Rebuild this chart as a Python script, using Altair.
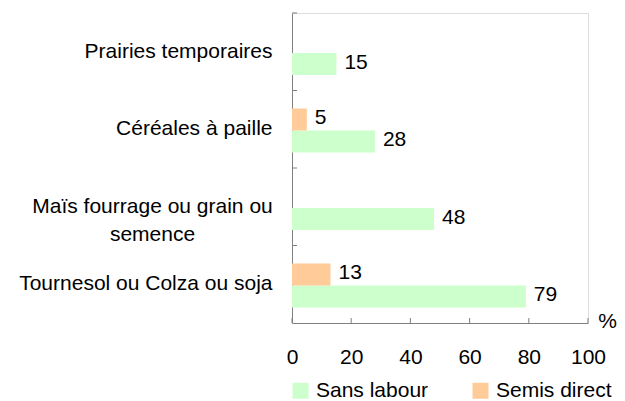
import altair as alt
import pandas as pd

categories = [
    "Prairies temporaires",
    "Céréales à paille",
    "Maïs fourrage ou grain ou semence",
    "Tournesol ou Colza ou soja",
]
series = ["Semis direct", "Sans labour"]
sans_labour = [15, 28, 48, 79]
semis_direct = [None, 5, None, 13]
x_ticks = [0, 20, 40, 60, 80, 100]
colors = {"Sans labour": "#CCFFCC", "Semis direct": "#FFCC99"}

FONT = "Liberation Sans, Arial, sans-serif"
FS = 21

rows = []
for c, s, d in zip(categories, sans_labour, semis_direct):
    rows.append({"cat": c, "serie": "Sans labour", "val": s})
    if d is not None:
        rows.append({"cat": c, "serie": "Semis direct", "val": d})
df = pd.DataFrame(rows)
cat_df = pd.DataFrame({"cat": categories})
tick_df = pd.DataFrame({"t": x_ticks})

wrapped = "Maïs fourrage ou grain ou semence"
label_expr = (
    f"datum.value == '{wrapped}' ? ['Maïs fourrage ou grain ou', 'semence'] : datum.label"
)
is_wrapped = f"datum.value == '{wrapped}'"

y_enc = alt.Y(
    "cat:N",
    sort=categories,
    scale=alt.Scale(paddingInner=0, paddingOuter=0),
    axis=alt.Axis(
        title=None,
        ticks=False,
        domainColor="#808080",
        domainWidth=1,
        labelPadding={"condition": {"test": is_wrapped, "value": 140}, "value": 20},
        labelAlign={"condition": {"test": is_wrapped, "value": "center"}, "value": "right"},
        labelFontSize=FS,
        labelFont=FONT,
        labelColor="#000000",
        labelLineHeight=28,
        labelLimit=400,
        labelExpr=label_expr,
    ),
)
x_enc = alt.X(
    "val:Q",
    scale=alt.Scale(domain=[0, 100], nice=False),
    axis=alt.Axis(
        values=x_ticks,
        ticks=False,
        grid=False,
        labelFlush=False,
        labelOverlap=False,
        domainColor="#808080",
        domainWidth=1,
        labelPadding=23,
        labelFontSize=FS,
        labelFont=FONT,
        labelColor="#000000",
        title="%",
        titleFont=FONT,
        titleFontSize=FS,
        titleFontWeight="normal",
        titleColor="#000000",
        titleX=315,
        titleY=4,
        titleAlign="center",
        titleBaseline="alphabetic",
    ),
)
yoff = alt.YOffset(
    "serie:N",
    sort=series,
    scale=alt.Scale(domain=series, paddingInner=0, paddingOuter=0.76, align=0.537),
)
color = alt.Color(
    "serie:N",
    scale=alt.Scale(domain=list(colors.keys()), range=list(colors.values())),
    legend=alt.Legend(
        title=None,
        orient="none",
        legendX=-2,
        legendY=367,
        direction="horizontal",
        columns=2,
        symbolType="square",
        symbolSize=256,
        symbolStrokeWidth=0,
        labelFontSize=FS,
        labelFont=FONT,
        labelColor="#000000",
        labelOffset=5,
        columnPadding=41,
        padding=0,
    ),
)

bars = alt.Chart(df).mark_bar(size=22).encode(y=y_enc, x=x_enc, yOffset=yoff, color=color)
labels = alt.Chart(df).mark_text(
    align="left", baseline="middle", dx=8, dy=-1, fontSize=FS, font=FONT, color="#000000"
).encode(
    y=alt.Y("cat:N", sort=categories),
    x="val:Q",
    yOffset=alt.YOffset("serie:N", sort=series),
    text="val:Q",
)

yticks = alt.Chart(cat_df).mark_rule(color="#808080").encode(
    y=alt.Y("cat:N", sort=categories, bandPosition=0),
    x=alt.value(0),
    x2=alt.value(5),
)
xticks = alt.Chart(tick_df).mark_rule(color="#808080").encode(
    x=alt.X("t:Q"),
    y=alt.value(310),
    y2=alt.value(305),
)

chart = (
    alt.layer(bars, labels, yticks, xticks)
    .properties(
        width=296,
        height=310,
        autosize=alt.AutoSizeParams(type="none"),
        padding={"left": 284, "top": 5, "right": 29, "bottom": 78},
    )
    .configure_view(stroke=None)
    .configure(font=FONT)
)

chart.save("out.html", embed_options={"renderer": "svg", "actions": False})
